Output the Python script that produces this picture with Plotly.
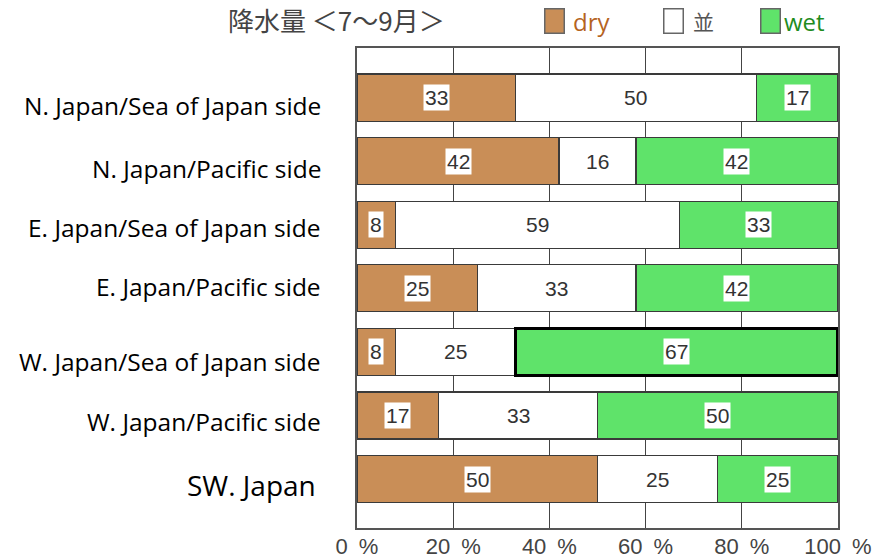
import plotly.graph_objects as go

regions = [
    "N. Japan/Sea of Japan side",
    "N. Japan/Pacific side",
    "E. Japan/Sea of Japan side",
    "E. Japan/Pacific side",
    "W. Japan/Sea of Japan side",
    "W. Japan/Pacific side",
    "SW. Japan",
]
dry = [33, 42, 8, 25, 8, 17, 50]
normal = [50, 16, 59, 33, 25, 33, 25]
wet = [17, 42, 33, 42, 67, 50, 25]
x_ticks = [0, 20, 40, 60, 80, 100]
x_tick_labels = ["0\u2002%", "20\u2002%", "40\u2002%", "60\u2002%", "80\u2002%", "100\u2002%"]
title_text = "降水量 ＜7～9月＞"
legend_names = ["dry", "並", "wet"]
highlight = ("W. Japan/Sea of Japan side", "wet")

# styling (pixel offsets of the left-hand labels relative to their bars)
label_yshift = [-8, -7, -3, 2, -10, -6, -6]

C_DRY = "#C98E57"
C_NORM = "#FFFFFF"
C_WET = "#5FE36A"
EDGE = "#3a3a3a"

W, H = 893, 559
ML, MR, MT, MB = 357, 55, 48, 31
PW, PH = W - ML - MR, H - MT - MB


def px_to_paper_x(px):
    return (px - ML) / PW


def px_to_paper_y(py):
    return 1 + (MT - py) / PH


fig = go.Figure()
series = [("dry", dry, C_DRY), ("normal", normal, C_NORM), ("wet", wet, C_WET)]
for key, vals, col in series:
    is_hl = [highlight[0] == r and highlight[1] == key for r in regions]
    fig.add_trace(go.Bar(
        y=regions, x=vals, orientation="h", width=0.74, name=key,
        marker=dict(color=col,
                    line=dict(color=["#000000" if h else EDGE for h in is_hl],
                              width=[3.5 if h else 1.2 for h in is_hl])),
        showlegend=False, hoverinfo="skip",
    ))

# value labels
for i, r in enumerate(regions):
    starts = [0, dry[i], dry[i] + normal[i]]
    for j, (key, vals, col) in enumerate(series):
        v = vals[i]
        fig.add_annotation(
            x=starts[j] + v / 2, y=r, xref="x", yref="y", text=str(v), showarrow=False,
            font=dict(family="Liberation Sans, Arial", size=21, color="#333333"),
            bgcolor="#FFFFFF" if key != "normal" else "rgba(0,0,0,0)",
            borderpad=1,
        )

# category labels
for i, r in enumerate(regions):
    big = r == "SW. Japan"
    fig.add_annotation(
        x=0, y=r, xref="paper", yref="y", xanchor="right",
        xshift=-34 if not big else -39, yshift=label_yshift[i],
        text=r, showarrow=False,
        font=dict(family="Open Sans", size=28 if big else 24.5, color="#000000"),
    )

# title
fig.add_annotation(
    x=px_to_paper_x(226), y=px_to_paper_y(20), xref="paper", yref="paper",
    xanchor="left", yanchor="middle", text=title_text, showarrow=False,
    font=dict(family="Noto Sans CJK JP", size=26, color="#444444"),
)

# legend
leg_box_px = [544, 663, 760]
leg_txt_px = [571, 691, 782]
leg_cols = [C_DRY, "#FFFFFF", C_WET]
leg_txt_cols = ["#B5641F", "#555555", "#1E8C1E"]
for bx, tx, name, c, tc in zip(leg_box_px, leg_txt_px, legend_names, leg_cols, leg_txt_cols):
    fig.add_annotation(
        x=px_to_paper_x(bx), y=px_to_paper_y(21), xref="paper", yref="paper",
        xanchor="left", yanchor="middle",
        text=" ", showarrow=False, width=18, height=23, bgcolor=c,
        bordercolor="#666666", borderwidth=1.5, borderpad=0,
    )
    fig.add_annotation(
        x=px_to_paper_x(tx), y=px_to_paper_y(21), xref="paper", yref="paper",
        xanchor="left", yanchor="middle", text=name, showarrow=False,
        font=dict(family="Noto Sans CJK JP" if name == "並" else "Open Sans",
                  size=21 if name == "並" else 24, color=tc),
    )

fig.update_layout(
    width=W, height=H,
    margin=dict(l=ML, r=MR, t=MT, b=MB),
    plot_bgcolor="#FFFFFF", paper_bgcolor="#FFFFFF",
    barmode="stack",
    xaxis=dict(
        range=[0, 100], tickvals=x_ticks, ticktext=x_tick_labels,
        showgrid=True, gridcolor="#444444", gridwidth=1.3,
        showline=True, linecolor="#555555", linewidth=1.5, mirror=True,
        ticks="", zeroline=False, automargin=False, ticklabelstandoff=-2,
        tickfont=dict(family="Liberation Sans, Arial", size=22, color="#444444"),
    ),
    yaxis=dict(
        categoryorder="array", categoryarray=regions,
        range=[6.77, -0.78], showticklabels=False, ticks="",
        showgrid=False, showline=True, linecolor="#555555", linewidth=1.5, mirror=True,
        zeroline=False, automargin=False,
    ),
)

fig.write_html("out.html")
